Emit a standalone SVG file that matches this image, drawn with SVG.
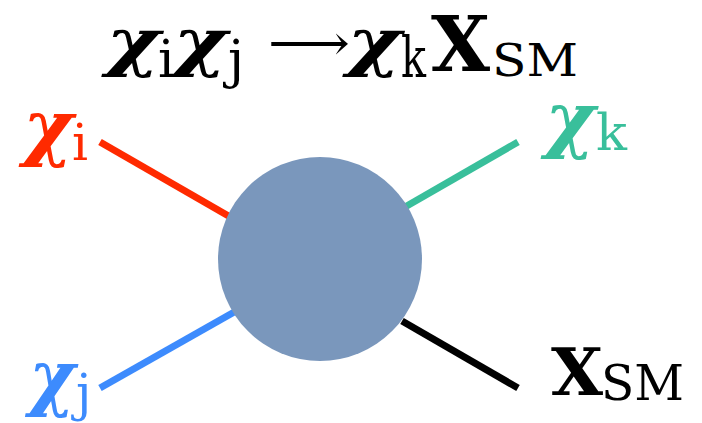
<svg xmlns="http://www.w3.org/2000/svg" width="702" height="423" viewBox="0 0 702 423">
<style>
.chi{font-family:"DejaVu Serif",serif;font-style:italic;font-weight:bold}
.sub{font-family:"DejaVu Serif",serif}
.bx{font-family:"DejaVu Serif",serif;font-weight:bold}
.ln{stroke-width:7;stroke-linecap:butt;fill:none}
</style>
<rect width="702" height="423" fill="#ffffff"/>
<g id="title">
<text class="chi" x="106" y="64" font-size="64" textLength="54" lengthAdjust="spacingAndGlyphs">χ</text>
<text class="sub" x="158" y="77" font-size="52">i</text>
<text class="chi" x="173" y="64" font-size="64" textLength="54" lengthAdjust="spacingAndGlyphs">χ</text>
<text class="sub" x="228" y="77" font-size="52">j</text>
<text class="sub" x="268" y="60" font-size="50" textLength="82" lengthAdjust="spacingAndGlyphs">⟶</text>
<text class="chi" x="347" y="64" font-size="64" textLength="54" lengthAdjust="spacingAndGlyphs">χ</text>
<text class="sub" x="401" y="77" font-size="56" textLength="25" lengthAdjust="spacingAndGlyphs">k</text>
<text class="bx" x="431" y="71" font-size="76" textLength="59" lengthAdjust="spacingAndGlyphs">X</text>
<text class="sub" x="492" y="76" font-size="44" textLength="86" lengthAdjust="spacingAndGlyphs">SM</text>
</g>
<g id="connectors">
<line class="ln" stroke="#ff2a00" x1="100" y1="142" x2="232" y2="218"/>
<line class="ln" stroke="#39bf9b" x1="518" y1="142" x2="405" y2="207"/>
<line class="ln" stroke="#3d8bfd" x1="100" y1="388" x2="236" y2="311"/>
<line class="ln" stroke="#000000" x1="518" y1="388" x2="402" y2="321"/>
</g>
<g id="vertex">
<circle cx="320" cy="259" r="102" fill="#7a97bc"/>
</g>
<g id="chi-i" fill="#ff2a00">
<text class="chi" x="23" y="152" font-size="72" textLength="50" lengthAdjust="spacingAndGlyphs">χ</text>
<text class="sub" x="72" y="160" font-size="50">i</text>
</g>
<g id="chi-k" fill="#39bf9b">
<text class="chi" x="545" y="144" font-size="72" textLength="50" lengthAdjust="spacingAndGlyphs">χ</text>
<text class="sub" x="596" y="150" font-size="50" textLength="31" lengthAdjust="spacingAndGlyphs">k</text>
</g>
<g id="chi-j" fill="#3d8bfd">
<text class="chi" x="29" y="402" font-size="72" textLength="46" lengthAdjust="spacingAndGlyphs">χ</text>
<text class="sub" x="76" y="410" font-size="50">j</text>
</g>
<g id="x-sm" fill="#000000">
<text class="bx" x="551" y="395" font-size="66" textLength="52" lengthAdjust="spacingAndGlyphs">X</text>
<text class="sub" x="601" y="400" font-size="48" textLength="83" lengthAdjust="spacingAndGlyphs">SM</text>
</g>
</svg>
